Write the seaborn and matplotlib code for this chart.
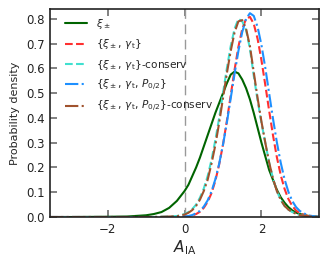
import numpy as np
import pandas as pd
import matplotlib
matplotlib.use("Agg")
import matplotlib.pyplot as plt
import seaborn as sns

# A_IA grid and probability densities
a_ia = [-3.5, -3.0, -2.5, -2.0, -1.5, -1.0, -0.8, -0.6, -0.4, -0.2,
        0.0, 0.1, 0.2, 0.3, 0.4, 0.5, 0.6, 0.7, 0.8, 0.9,
        1.0, 1.1, 1.2, 1.3, 1.4, 1.5, 1.6, 1.7, 1.8, 1.9,
        2.0, 2.1, 2.2, 2.3, 2.4, 2.5, 2.6, 2.7, 2.8, 2.9,
        3.0, 3.2, 3.4, 3.5]

xi_pm = [0.0, 0.0, 0.0005, 0.001, 0.002, 0.007, 0.012, 0.02, 0.037, 0.065,
         0.105, 0.13, 0.165, 0.2, 0.24, 0.285, 0.33, 0.375, 0.42, 0.46,
         0.50, 0.54, 0.575, 0.587, 0.58, 0.555, 0.52, 0.475, 0.42, 0.36,
         0.30, 0.245, 0.19, 0.15, 0.11, 0.08, 0.058, 0.04, 0.027, 0.018,
         0.012, 0.005, 0.002, 0.001]

xi_gt = [0.0, 0.0, 0.0, 0.0, 0.0, 0.0, 0.0, 0.0, 0.0, 0.0,
         0.001, 0.003, 0.006, 0.012, 0.021, 0.037, 0.061, 0.096, 0.146, 0.212,
         0.293, 0.388, 0.491, 0.594, 0.687, 0.759, 0.801, 0.808, 0.780, 0.719,
         0.633, 0.533, 0.429, 0.330, 0.242, 0.170, 0.114, 0.073, 0.045, 0.026,
         0.015, 0.004, 0.001, 0.0]

xi_gt_cons = [0.0, 0.0, 0.0, 0.0, 0.0, 0.0, 0.0, 0.001, 0.002, 0.004,
              0.012, 0.02, 0.032, 0.05, 0.078, 0.115, 0.165, 0.23, 0.31, 0.40,
              0.50, 0.60, 0.69, 0.76, 0.80, 0.79, 0.755, 0.68, 0.57, 0.47,
              0.38, 0.30, 0.22, 0.155, 0.105, 0.07, 0.045, 0.03, 0.02, 0.013,
              0.008, 0.003, 0.001, 0.0]

xi_gt_p = [0.0, 0.0, 0.0, 0.0, 0.0, 0.0, 0.0, 0.0, 0.0, 0.0,
           0.002, 0.004, 0.008, 0.015, 0.025, 0.042, 0.067, 0.103, 0.152, 0.215,
           0.292, 0.381, 0.479, 0.578, 0.670, 0.747, 0.800, 0.823, 0.812, 0.767,
           0.694, 0.602, 0.499, 0.397, 0.302, 0.220, 0.153, 0.102, 0.065, 0.040,
           0.024, 0.007, 0.002, 0.001]

xi_gt_p_cons = [0.0, 0.0, 0.0, 0.0, 0.0, 0.0, 0.0, 0.001, 0.002, 0.003,
                0.01, 0.017, 0.028, 0.045, 0.07, 0.105, 0.15, 0.215, 0.29, 0.38,
                0.48, 0.58, 0.67, 0.745, 0.79, 0.795, 0.76, 0.69, 0.585, 0.48,
                0.385, 0.30, 0.22, 0.155, 0.105, 0.07, 0.045, 0.03, 0.02, 0.013,
                0.008, 0.003, 0.001, 0.0]

labels = [r'$\xi_\pm$',
          r'$\{\xi_\pm,\,\gamma_{\rm t}\}$',
          r'$\{\xi_\pm,\,\gamma_{\rm t}\}$-conserv',
          r'$\{\xi_\pm,\,\gamma_{\rm t},\,P_{0/2}\}$',
          r'$\{\xi_\pm,\,\gamma_{\rm t},\,P_{0/2}\}$-conserv']
colors = ['darkgreen', '#ff3030', 'turquoise', 'dodgerblue', 'sienna']
styles = ['-', '--', '--', '-.', '-.']
series = [xi_pm, xi_gt, xi_gt_cons, xi_gt_p, xi_gt_p_cons]

sns.set_style("ticks")
plt.rcParams.update({
    'mathtext.fontset': 'dejavusans',
    'xtick.direction': 'in', 'ytick.direction': 'in',
    'xtick.top': True, 'ytick.right': True,
})

fig = plt.figure(figsize=(3.29, 2.64), dpi=100)
ax = fig.add_axes([0.152, 0.178, 0.818, 0.788])

ax.axvline(0, color='#999999', ls='--', lw=1.0, dashes=(7, 4), zorder=1)

for lab, col, ls, vals in zip(labels, colors, styles, series):
    df = pd.DataFrame({'A_IA': a_ia, 'density': vals})
    sns.lineplot(data=df, x='A_IA', y='density', ax=ax, color=col,
                 linestyle=ls, lw=1.5, label=lab)

ax.set_xlim(-3.5, 3.5)
ax.set_ylim(0, 0.84)
ax.set_xticks([-2, 0, 2])
ax.set_yticks(np.arange(0, 0.81, 0.1))
ax.tick_params(which='major', direction='in', length=5, width=1.3,
               color='#777777', labelsize=8.5, labelcolor='#222222', pad=4,
               top=True, right=True, zorder=5)
for s in ax.spines.values():
    s.set_linewidth(1.2)
    s.set_color('#222222')
ax.set_xlabel(r'$A_{\rm IA}$', fontsize=11, labelpad=2)
ax.set_ylabel('Probability density', fontsize=8)
ax.legend(loc='upper left', bbox_to_anchor=(0.025, 1.0), frameon=False,
          fontsize=7.6, handlelength=2.1, labelspacing=0.6, borderaxespad=0.35,
          handletextpad=0.9)

fig.savefig('out.png', dpi=100)
